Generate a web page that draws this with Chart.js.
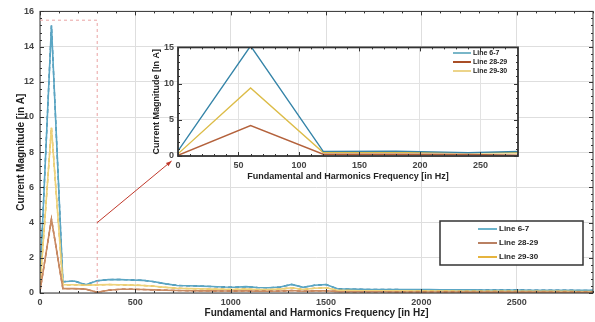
<!DOCTYPE html>
<html>
<head>
<meta charset="utf-8">
<script src="https://cdn.jsdelivr.net/npm/chart.js@4/dist/chart.umd.min.js"></script>
<style>
  body { margin: 0; background: #fff; }
  #wrap { position: relative; width: 595px; height: 322px; }
  #main { position: absolute; left: 0; top: 0; }
  #inset { position: absolute; left: 140px; top: 38px; }
</style>
</head>
<body>
<div id="wrap">
  <canvas id="main" width="595" height="322"></canvas>
  <canvas id="inset" width="385" height="150"></canvas>
</div>
<script>
/* global Chart */

// harmonic frequencies (Hz), fundamental at 60 Hz
var freqHz = [0, 60, 120, 180, 240, 300, 360, 420, 480, 540, 600, 660, 720, 780, 840, 900,
  960, 1020, 1080, 1140, 1200, 1260, 1320, 1380, 1440, 1500, 1560, 1620, 1680, 1740, 1800,
  1860, 1920, 1980, 2040, 2100, 2160, 2220, 2280, 2340, 2400, 2460, 2520, 2580, 2640, 2700,
  2760, 2820, 2880, 2940];

// current magnitude per harmonic (A)
var line67 = [0.70, 15.20, 0.64, 0.68, 0.47, 0.70, 0.76, 0.77, 0.74, 0.72, 0.64, 0.52, 0.43,
  0.41, 0.39, 0.37, 0.34, 0.33, 0.36, 0.31, 0.30, 0.34, 0.49, 0.32, 0.44, 0.48, 0.24, 0.22,
  0.21, 0.20, 0.20, 0.20, 0.19, 0.19, 0.19, 0.18, 0.18, 0.18, 0.18, 0.17, 0.17, 0.17, 0.17,
  0.16, 0.16, 0.16, 0.16, 0.15, 0.15, 0.15];
var line2829 = [0.10, 4.20, 0.25, 0.25, 0.22, 0.04, 0.16, 0.21, 0.21, 0.20, 0.18, 0.16, 0.14,
  0.13, 0.12, 0.12, 0.11, 0.11, 0.12, 0.10, 0.10, 0.11, 0.14, 0.10, 0.12, 0.13, 0.08, 0.07,
  0.07, 0.07, 0.07, 0.06, 0.06, 0.06, 0.06, 0.06, 0.06, 0.05, 0.05, 0.05, 0.05, 0.05, 0.05,
  0.05, 0.05, 0.04, 0.04, 0.04, 0.04, 0.04];
var line2930 = [0.30, 9.40, 0.47, 0.47, 0.44, 0.46, 0.48, 0.47, 0.45, 0.43, 0.38, 0.32, 0.27,
  0.25, 0.24, 0.22, 0.21, 0.20, 0.23, 0.19, 0.19, 0.22, 0.30, 0.20, 0.27, 0.30, 0.15, 0.14,
  0.13, 0.13, 0.12, 0.12, 0.12, 0.11, 0.11, 0.11, 0.11, 0.10, 0.10, 0.10, 0.10, 0.10, 0.09,
  0.09, 0.09, 0.09, 0.09, 0.08, 0.08, 0.08];

var seriesNames = ["Line 6-7", "Line 28-29", "Line 29-30"];
var mainXTicks = [0, 500, 1000, 1500, 2000, 2500];
var insetXTicks = [0, 50, 100, 150, 200, 250];

// zoomed region marked on the main plot, and the arrow to the inset
var zoomBox = { x0: 0, x1: 300, y0: 0, y1: 15.5 };
var arrowFrom = [300, 4];
var arrowTo = [690, 7.5];

var FONT = "'Liberation Sans', Arial, sans-serif";
var mainColors = [
  { base: "#5aa6c4", dash: "#1d6a94", legend: "#6cb4cc" },
  { base: "#c98a62", dash: "#a2451c", legend: "#b98062" },
  { base: "#eed27a", dash: "#d99a1e", legend: "#e6b43e" }
];
var insetColors = ["#3584a8", "#b4623c", "#dcbc48"];
var insetLegendColors = ["#79b6c8", "#a94e26", "#ecd48a"];

function pts(values) {
  return values.map(function (v, i) { return { x: freqHz[i], y: v }; });
}

function plain(v) { return String(v); }

// MATLAB-like box with inward major/minor ticks
var frameTicks = {
  id: "frameTicks",
  beforeDraw: function (chart, args, o) {
    if (!o.fill) return;
    var a = chart.chartArea, ctx = chart.ctx;
    ctx.save();
    ctx.fillStyle = o.fill;
    ctx.fillRect(a.left, a.top, a.right - a.left, a.bottom - a.top);
    ctx.restore();
  },
  afterDatasetsDraw: function (chart, args, o) {
    var ctx = chart.ctx, a = chart.chartArea, sx = chart.scales.x, sy = chart.scales.y;
    ctx.save();
    ctx.strokeStyle = o.color;
    ctx.lineWidth = 1;
    ctx.beginPath();
    var v, p, len, eps = 1e-6;
    for (v = sx.min; v <= sx.max + eps; v += o.xMinor) {
      p = Math.round(sx.getPixelForValue(v)) + 0.5;
      len = Math.abs(v / o.xMajor - Math.round(v / o.xMajor)) < eps ? o.major : o.minor;
      ctx.moveTo(p, a.bottom); ctx.lineTo(p, a.bottom - len);
      ctx.moveTo(p, a.top); ctx.lineTo(p, a.top + len);
    }
    for (v = sy.min; v <= sy.max + eps; v += o.yMinor) {
      p = Math.round(sy.getPixelForValue(v)) + 0.5;
      len = Math.abs(v / o.yMajor - Math.round(v / o.yMajor)) < eps ? o.major : o.minor;
      ctx.moveTo(a.left, p); ctx.lineTo(a.left + len, p);
      ctx.moveTo(a.right, p); ctx.lineTo(a.right - len, p);
    }
    ctx.stroke();
    ctx.lineWidth = o.width;
    ctx.strokeRect(a.left, a.top, a.right - a.left, a.bottom - a.top);
    ctx.restore();
  }
};

// legend drawn as a boxed block inside the plot
var boxLegend = {
  id: "boxLegend",
  afterDraw: function (chart, args, o) {
    var ctx = chart.ctx;
    ctx.save();
    if (o.border) {
      ctx.fillStyle = "#fff";
      ctx.fillRect(o.x, o.y, o.w, o.h);
      ctx.strokeStyle = o.border;
      ctx.lineWidth = 1.5;
      ctx.strokeRect(o.x, o.y, o.w, o.h);
    }
    ctx.font = "bold " + o.fontSize + "px " + FONT;
    ctx.textBaseline = "middle";
    ctx.fillStyle = "#222";
    for (var i = 0; i < seriesNames.length; i++) {
      var yy = o.rowY + i * o.rowGap;
      ctx.strokeStyle = o.colors[i];
      ctx.lineWidth = 2;
      ctx.beginPath();
      ctx.moveTo(o.lineX, yy); ctx.lineTo(o.lineX + o.lineW, yy);
      ctx.stroke();
      ctx.fillText(seriesNames[i], o.lineX + o.lineW + 2, yy);
    }
    ctx.restore();
  }
};

// dashed zoom box and arrow pointing at the inset
var zoomMarker = {
  id: "zoomMarker",
  afterDraw: function (chart) {
    var ctx = chart.ctx, sx = chart.scales.x, sy = chart.scales.y;
    var x0 = sx.getPixelForValue(zoomBox.x0), x1 = sx.getPixelForValue(zoomBox.x1);
    var y0 = sy.getPixelForValue(zoomBox.y0), y1 = sy.getPixelForValue(zoomBox.y1);
    ctx.save();
    ctx.strokeStyle = "#eaa2a2";
    ctx.lineWidth = 1;
    ctx.setLineDash([3, 3]);
    ctx.beginPath();
    ctx.moveTo(x0, y1); ctx.lineTo(x1, y1); ctx.lineTo(x1, y0);
    ctx.stroke();
    ctx.setLineDash([]);
    var ax = sx.getPixelForValue(arrowFrom[0]), ay = sy.getPixelForValue(arrowFrom[1]);
    var bx = sx.getPixelForValue(arrowTo[0]), by = sy.getPixelForValue(arrowTo[1]);
    ctx.strokeStyle = "#c0392b";
    ctx.fillStyle = "#c0392b";
    ctx.beginPath();
    ctx.moveTo(ax, ay); ctx.lineTo(bx, by);
    ctx.stroke();
    var ang = Math.atan2(by - ay, bx - ax), hl = 6;
    ctx.beginPath();
    ctx.moveTo(bx, by);
    ctx.lineTo(bx - hl * Math.cos(ang - 0.35), by - hl * Math.sin(ang - 0.35));
    ctx.lineTo(bx - hl * Math.cos(ang + 0.35), by - hl * Math.sin(ang + 0.35));
    ctx.closePath();
    ctx.fill();
    ctx.restore();
  }
};

function keepTicks(list) {
  return function (scale) {
    scale.ticks = list.map(function (v) { return { value: v }; });
  };
}

var mainSets = [];
[line2829, line2930, line67].forEach(function (vals, j) {
  var idx = [1, 2, 0][j];
  var c = mainColors[idx];
  mainSets.push({ data: pts(vals), borderColor: c.base, borderWidth: 1.6, pointRadius: 0, tension: 0 });
  mainSets.push({ data: pts(vals), borderColor: c.dash, borderWidth: 1.4, borderDash: [4, 3], pointRadius: 0, tension: 0 });
});

new Chart(document.getElementById("main"), {
  type: "line",
  data: { datasets: mainSets },
  options: {
    responsive: false,
    animation: false,
    layout: { padding: { top: 10, right: 2, left: 0, bottom: 0 } },
    scales: {
      x: {
        type: "linear", min: 0, max: 2900,
        afterBuildTicks: keepTicks(mainXTicks),
        afterFit: function (s) { s.height = 29; },
        grid: { color: "#dedede", drawTicks: false },
        border: { display: false },
        ticks: { padding: 4, color: "#444", callback: plain, font: { family: FONT, size: 9, weight: "bold" } },
        title: { display: true, text: "Fundamental and Harmonics Frequency [in Hz]", color: "#222",
          font: { family: FONT, size: 10, weight: "bold", lineHeight: 1.2 }, padding: { top: 0, bottom: 3 } }
      },
      y: {
        min: 0, max: 16,
        ticks: { stepSize: 2, padding: 6, color: "#444", callback: plain, font: { family: FONT, size: 9, weight: "bold" } },
        afterFit: function (s) { s.width = 40; },
        grid: { color: "#dedede", drawTicks: false },
        border: { display: false },
        title: { display: true, text: "Current Magnitude [in A]", color: "#222",
          font: { family: FONT, size: 10, weight: "bold", lineHeight: 1.2 }, padding: { top: 15, bottom: 0 } }
      }
    },
    plugins: {
      legend: { display: false },
      tooltip: { enabled: false },
      frameTicks: { color: "#333", width: 1, xMinor: 100, xMajor: 500, yMinor: 0.4, yMajor: 2, major: 4, minor: 2 },
      boxLegend: { border: "#333", x: 440, y: 221, w: 143, h: 44, lineX: 478, lineW: 19, rowY: 229, rowGap: 14,
        fontSize: 8, colors: mainColors.map(function (c) { return c.legend; }) }
    }
  },
  plugins: [frameTicks, zoomMarker, boxLegend]
});

var insetSets = [[line67, 0], [line2829, 1], [line2930, 2]].map(function (s) {
  return { data: pts(s[0]), borderColor: insetColors[s[1]], borderWidth: 1.4, pointRadius: 0, tension: 0 };
});

new Chart(document.getElementById("inset"), {
  type: "line",
  data: { datasets: insetSets },
  options: {
    responsive: false,
    animation: false,
    layout: { padding: { top: 7, right: 7, left: 0, bottom: 0 } },
    scales: {
      x: {
        type: "linear", min: 0, max: 281,
        afterBuildTicks: keepTicks(insetXTicks),
        afterFit: function (s) { s.height = 32; },
        grid: { color: "#e2e2e2", drawTicks: false },
        border: { display: false },
        ticks: { padding: 4, color: "#444", callback: plain, font: { family: FONT, size: 9, weight: "bold" } },
        title: { display: true, text: "Fundamental and Harmonics Frequency [in Hz]", color: "#222",
          font: { family: FONT, size: 9, weight: "bold", lineHeight: 1.2 }, padding: { top: 0, bottom: 6 } }
      },
      y: {
        min: 0, max: 15,
        ticks: { stepSize: 5, padding: 4, color: "#444", callback: plain, font: { family: FONT, size: 9, weight: "bold" } },
        afterFit: function (s) { s.width = 38; },
        grid: { color: "#e2e2e2", drawTicks: false },
        border: { display: false },
        title: { display: true, text: "Current Magnitude [In A]", color: "#222",
          font: { family: FONT, size: 9, weight: "bold", lineHeight: 1.2 }, padding: { top: 11, bottom: 0 } }
      }
    },
    plugins: {
      legend: { display: false },
      tooltip: { enabled: false },
      frameTicks: { fill: "#fff", color: "#333", width: 1.8, xMinor: 10, xMajor: 50, yMinor: 1, yMajor: 5, major: 4, minor: 2 },
      boxLegend: { x: 0, y: 0, w: 0, h: 0, lineX: 313, lineW: 18, rowY: 15, rowGap: 9,
        fontSize: 7, colors: insetLegendColors }
    }
  },
  plugins: [frameTicks, boxLegend]
});
</script>
</body>
</html>
